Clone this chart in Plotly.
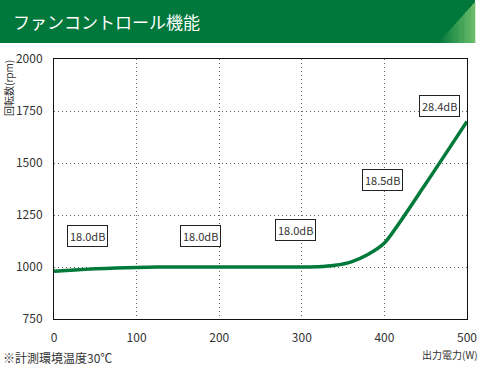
import plotly.graph_objects as go
import numpy as np

# Data
power_w = [0, 25, 50, 75, 100, 125, 200, 300, 320, 340, 360, 380, 400, 450, 500]
fan_rpm = [980, 986, 991, 995, 998, 1000, 1000, 1000, 1001, 1008, 1025, 1060, 1115, 1400, 1700]

label_text = ["18.0dB", "18.0dB", "18.0dB", "18.5dB", "28.4dB"]
label_x = [40, 177, 292, 398, 467]
label_y = [1149, 1149, 1178, 1418, 1774]

x_ticks = [0, 100, 200, 300, 400, 500]
y_ticks = [750, 1000, 1250, 1500, 1750, 2000]

W, H = 482, 367
L, R, T, B = 54, 15, 59, 48
pw, ph = W - L - R, H - T - B

def px(x):
    return (x - L) / pw

def py(y):
    return 1 - (y - T) / ph

FONT = "Noto Sans CJK JP"
GREEN = "#00773b"

fig = go.Figure()
fig.add_trace(go.Scatter(x=power_w, y=fan_rpm, mode="lines",
                         line=dict(color="#007a3b", width=3.5, shape="spline", smoothing=0.6),
                         hoverinfo="skip", showlegend=False))

shapes = []
# Banner
shapes.append(dict(type="rect", xref="paper", yref="paper", x0=px(0), x1=px(475), y0=py(43), y1=py(0),
                   fillcolor=GREEN, line=dict(width=0), layer="above"))
# gradient triangle on the right
n = 16
x_left, x_right = 438, 475
def yh(x):
    return 43 - (x - x_left) * (41 / (x_right - x_left))
c0 = np.array([0x00, 0x77, 0x3b]); c1 = np.array([0x70, 0xc0, 0x6c])
for i in range(n):
    xa = x_left + (x_right - x_left) * i / n
    xb = x_left + (x_right - x_left) * (i + 1) / n + 0.3
    t = (i + 0.5) / n
    c = (c0 + (c1 - c0) * t).astype(int)
    col = "rgb(%d,%d,%d)" % tuple(c)
    path = "M %f,%f L %f,%f L %f,%f L %f,%f Z" % (px(xa), py(43), px(xa), py(yh(xa)),
                                                     px(xb), py(yh(xb)), px(xb), py(43))
    shapes.append(dict(type="path", xref="paper", yref="paper", path=path,
                       fillcolor=col, line=dict(width=0), layer="above"))

annotations = [
    dict(text="ファンコントロール機能", xref="paper", yref="paper", x=px(11), y=py(21),
         xanchor="left", yanchor="middle", showarrow=False,
         font=dict(family=FONT, size=17, color="white")),
    dict(text="回転数(rpm)", xref="paper", yref="paper", x=px(8), y=py(58),
         xanchor="center", yanchor="top", textangle=-90, showarrow=False,
         font=dict(family=FONT, size=10, color="#333")),
    dict(text="出力電力(W)", xref="paper", yref="paper", x=px(480), y=py(354),
         xanchor="right", yanchor="middle", showarrow=False,
         font=dict(family=FONT, size=10, color="#333")),
    dict(text="※計測環境温度30℃", xref="paper", yref="paper", x=px(1), y=py(357),
         xanchor="left", yanchor="middle", showarrow=False,
         font=dict(family=FONT, size=12, color="#333")),
]
for t, x, y in zip(label_text, label_x, label_y):
    annotations.append(dict(text=t, x=x, y=y, xref="x", yref="y", showarrow=False,
                            bordercolor="#222", borderwidth=1, borderpad=2, bgcolor="white",
                            font=dict(family=FONT, size=11, color="#333")))

axis_common = dict(showgrid=True, gridcolor="#666", griddash="1px,3px", gridwidth=1.2,
                   zeroline=False, showline=True, linecolor="#111", linewidth=1, mirror=True,
                   ticks="", ticklabelstandoff=8, automargin=False,
                   tickfont=dict(family=FONT, size=12, color="#333"))

fig.update_layout(
    template="none",
    width=W, height=H, margin=dict(l=L, r=R, t=T, b=B, autoexpand=False),
    paper_bgcolor="white", plot_bgcolor="white",
    shapes=shapes, annotations=annotations, showlegend=False,
    xaxis=dict(range=[0, 500], tickvals=x_ticks, **axis_common),
    yaxis=dict(range=[750, 2000], tickvals=y_ticks, **axis_common),
)

fig.write_html("out.html", config={"displayModeBar": False, "responsive": False},
               post_script="document.body.style.margin='0';document.body.style.padding='0';")
